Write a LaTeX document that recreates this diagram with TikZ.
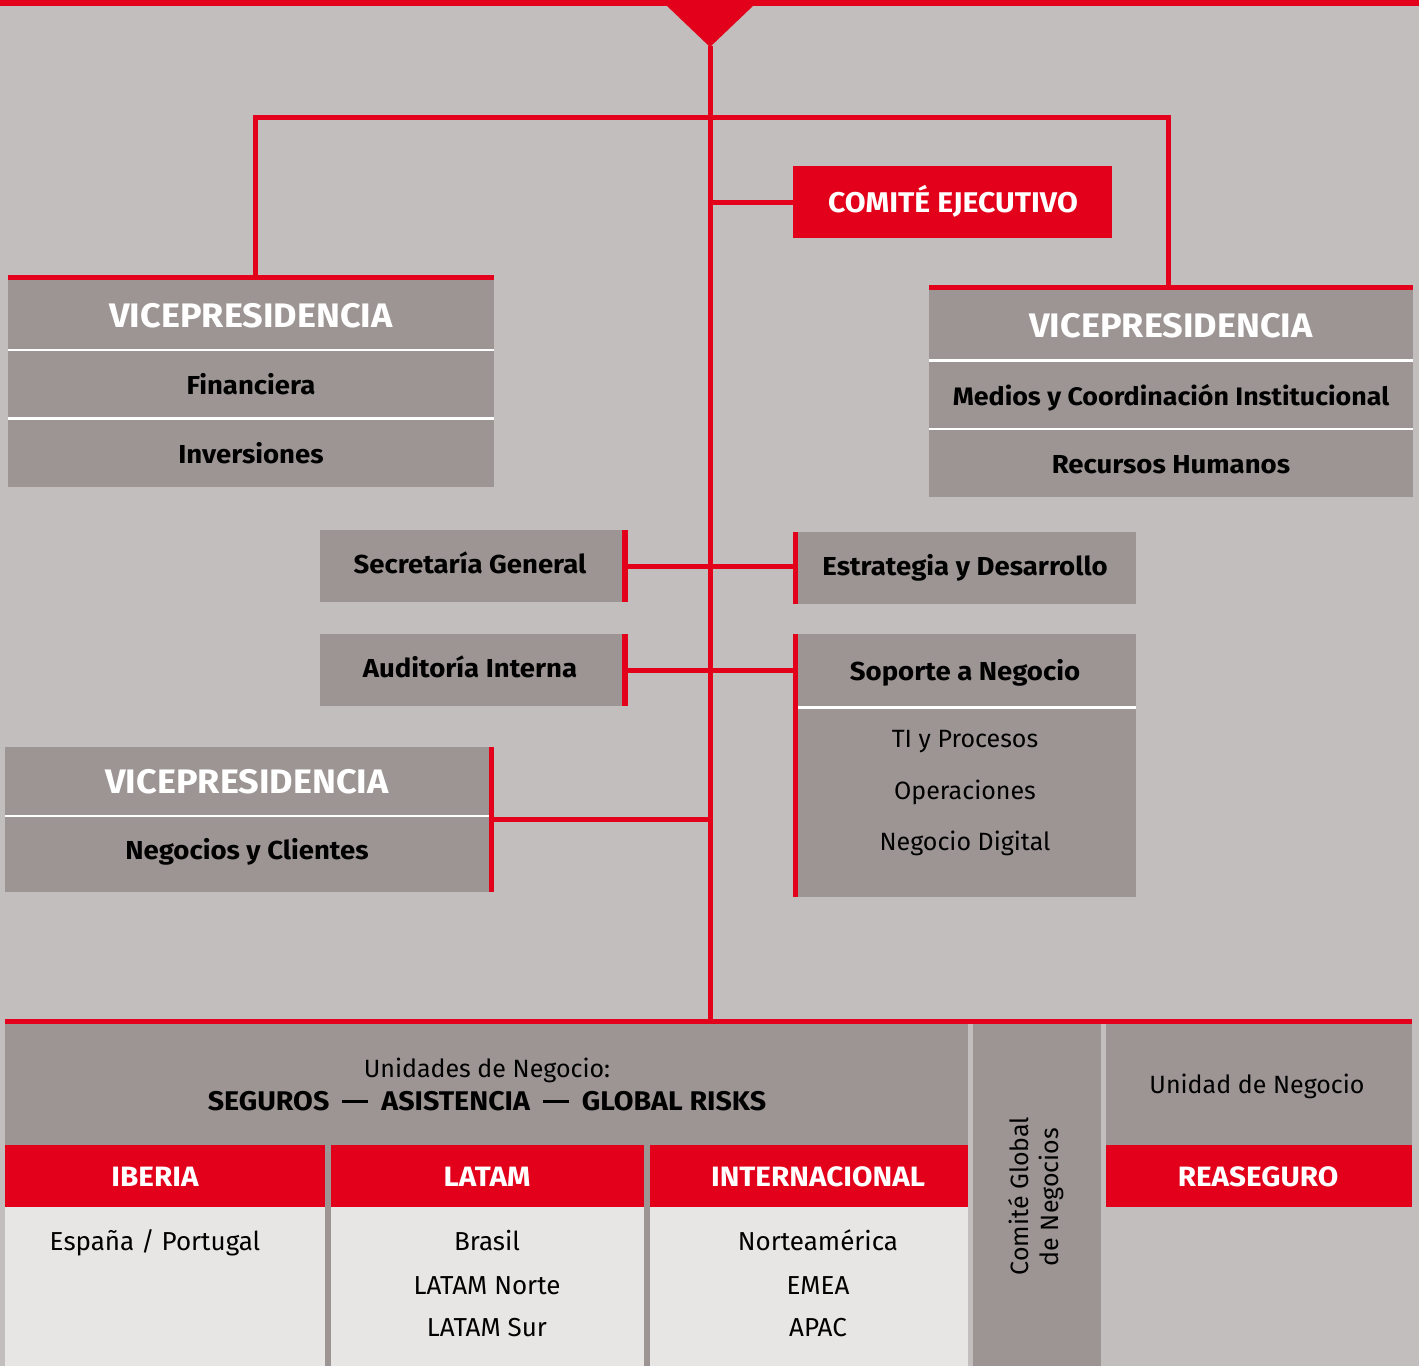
\documentclass[tikz,border=0pt]{standalone}
\usepackage{fontspec}
\setmainfont{Fira Sans}[BoldFeatures={FakeStretch=1.06}]
\definecolor{bg}{HTML}{C2BEBD}
\definecolor{boxg}{HTML}{9C9594}
\definecolor{mred}{HTML}{E2001A}
\definecolor{light}{HTML}{E8E6E5}
\newcommand{\longdash}{\hspace{13pt}\rule[7.5pt]{26pt}{2.8pt}\hspace{13pt}}
\begin{document}
\begin{tikzpicture}[x=1pt,y=-1pt,
  box/.style={fill=boxg, draw=none, inner sep=0pt, outer sep=0pt, anchor=north west},
  redbox/.style={fill=mred, draw=none, inner sep=0pt, outer sep=0pt, anchor=north west},
  lightbox/.style={fill=light, draw=none, inner sep=0pt, outer sep=0pt, anchor=north west},
  conn/.style={draw=mred, line width=5pt},
  sepline/.style={draw=white, line width=2.5pt},
  lbl/.style={inner sep=0pt, outer sep=0pt, text depth=0pt, anchor=center},
  vp/.style={lbl, font=\fontsize{34}{34}\selectfont\bfseries, text height=23.4pt, text=white},
  bl/.style={lbl, font=\fontsize{26}{26}\selectfont\bfseries, text height=17.9pt, text=black},
  blw/.style={lbl, font=\fontsize{25.3}{25.3}\selectfont\bfseries, text height=17.4pt, text=black},
  blx/.style={lbl, font=\fontsize{27}{27}\selectfont\bfseries, text height=18.6pt, text=black},
  hd/.style={lbl, font=\fontsize{28}{28}\selectfont\bfseries, text height=19.3pt, text=white},
  comt/.style={lbl, font=\fontsize{28.5}{28.5}\selectfont\bfseries, text height=19.6pt, text=white},
  rl/.style={lbl, font=\fontsize{25}{25}\selectfont, text height=17.2pt, text=black},
  rlb/.style={lbl, font=\fontsize{26}{26}\selectfont, text height=17.9pt, text=black},
]
\useasboundingbox (0,0) rectangle (1419,1366);
\fill[bg] (0,0) rectangle (1419,1366);
\fill[mred] (0,0) rectangle (1419,6);
\fill[mred] (666,5) -- (754,5) -- (710,47) -- cycle;

% spine
\coordinate (spTop) at (710,46);
\coordinate (spBot) at (710,1020);
\draw[conn] (spTop) -- (spBot);
\coordinate (hj) at (710,117);

% Comite ejecutivo
\node[redbox, minimum width=319pt, minimum height=72pt] (com) at (793,166) {};
\node[comt] (comT) at (953,203) {COMITÉ EJECUTIVO};

% VP Financiera
\node[box, minimum width=486pt, minimum height=212pt] (vpf) at (8,275) {};
\fill[mred] (vpf.north west) rectangle ([yshift=-5pt]vpf.north east);
\draw[sepline] (8,350) -- (494,350);
\draw[sepline] (8,418.5) -- (494,418.5);
\node[vp] (vpfT) at (251,316) {VICEPRESIDENCIA};
\node[bl] (vpf1) at (251,386) {Financiera};
\node[bl] (vpf2) at (251,455) {Inversiones};

% VP Medios
\node[box, minimum width=484pt, minimum height=212pt] (vpm) at (929,285) {};
\fill[mred] (vpm.north west) rectangle ([yshift=-5pt]vpm.north east);
\draw[sepline] (929,360.5) -- (1413,360.5);
\draw[sepline] (929,429) -- (1413,429);
\node[vp] (vpmT) at (1171,326) {VICEPRESIDENCIA};
\node[blw] (vpm1) at (1171,397) {Medios y Coordinación Institucional};
\node[bl] (vpm2) at (1171,465) {Recursos Humanos};

% connectors from top
\draw[conn] ([xshift=4pt,yshift=-2pt]vpf.north) |- (hj) -| ([xshift=-3pt,yshift=-2pt]vpm.north);
\draw[conn] (com.west -| spTop) -- (com.west);

% Secretaria / Auditoria
\node[box, minimum width=308pt, minimum height=72pt] (sec) at (320,530) {};
\fill[mred] ([xshift=-6pt]sec.north east) rectangle (sec.south east);
\node[bl] (secT) at (470,565) {Secretaría General};
\node[box, minimum width=308pt, minimum height=72pt] (aud) at (320,634) {};
\fill[mred] ([xshift=-6pt]aud.north east) rectangle (aud.south east);
\node[bl] (audT) at (470,669) {Auditoría Interna};

% Estrategia / Soporte
\node[box, minimum width=343pt, minimum height=72pt] (est) at (793,532) {};
\fill[mred] (est.north west) rectangle ([xshift=5pt]est.south west);
\node[bl] (estT) at (965,567) {Estrategia y Desarrollo};
\node[box, minimum width=343pt, minimum height=263pt] (sop) at (793,634) {};
\fill[mred] (sop.north west) rectangle ([xshift=5pt]sop.south west);
\draw[sepline] (798,707.5) -- (1136,707.5);
\node[bl] (sopT) at (965,672) {Soporte a Negocio};
\node[rl] (sop1) at (965,739) {TI y Procesos};
\node[rl] (sop2) at (965,791) {Operaciones};
\node[rl] (sop3) at (965,842) {Negocio Digital};

\draw[conn] ([xshift=-3pt]sec.east) -- ([xshift=3pt]sec.east -| est.west);
\draw[conn] ([xshift=-3pt]aud.east) -- ([xshift=3pt]aud.east -| sop.west);

% VP Negocios
\node[box, minimum width=489pt, minimum height=145pt] (vpn) at (5,747) {};
\fill[mred] ([xshift=-5pt]vpn.north east) rectangle (vpn.south east);
\draw[sepline] (5,816) -- (489,816);
\node[vp] (vpnT) at (247,782) {VICEPRESIDENCIA};
\node[bl] (vpn1) at (247,851) {Negocios y Clientes};
\coordinate (vpnC) at (494,819);
\draw[conn] ([xshift=-2pt]vpnC) -- (vpnC -| spTop);

% Bottom section
\fill[mred] (5,1019) rectangle (1412,1024);
\node[box, minimum width=963pt, minimum height=342pt] (un) at (5,1024) {};
\node[rl] (unT1) at (487,1069) {Unidades de Negocio:};
\node[blx] (unT2) at (487,1101) {SEGUROS\longdash ASISTENCIA\longdash GLOBAL RISKS};

\node[redbox, minimum width=320pt, minimum height=62pt] (ib) at (5,1145) {};
\node[redbox, minimum width=313pt, minimum height=62pt] (la) at (331,1145) {};
\node[redbox, minimum width=318pt, minimum height=62pt] (in) at (650,1145) {};
\node[lightbox, minimum width=320pt, minimum height=159pt] (ibB) at (5,1207) {};
\node[lightbox, minimum width=313pt, minimum height=159pt] (laB) at (331,1207) {};
\node[lightbox, minimum width=318pt, minimum height=159pt] (inB) at (650,1207) {};
\node[hd] (ibT) at (155,1177) {IBERIA};
\node[hd] (laT) at (487,1177) {LATAM};
\node[hd] (inT) at (818,1177) {INTERNACIONAL};
\node[rlb] (ib1) at (155,1242) {España / Portugal};
\node[rlb] (la1) at (487,1242) {Brasil};
\node[rlb] (la2) at (487,1286) {LATAM Norte};
\node[rlb] (la3) at (487,1328) {LATAM Sur};
\node[rlb] (in1) at (818,1242) {Norteamérica};
\node[rlb] (in2) at (818,1286) {EMEA};
\node[rlb] (in3) at (818,1328) {APAC};

% Comite global
\node[box, minimum width=128pt, minimum height=342pt] (cg) at (973,1024) {};
\node[rl, rotate=90] (cg1) at (1020,1196) {Comité Global};
\node[rl, rotate=90] (cg2) at (1050,1197) {de Negocios};

% Reaseguro
\node[box, minimum width=306pt, minimum height=121pt] (ud) at (1106,1024) {};
\node[redbox, minimum width=306pt, minimum height=62pt] (re) at (1106,1145) {};
\node[rl] (udT) at (1257,1085) {Unidad de Negocio};
\node[hd] (reT) at (1258,1177) {REASEGURO};
\end{tikzpicture}
\end{document}
